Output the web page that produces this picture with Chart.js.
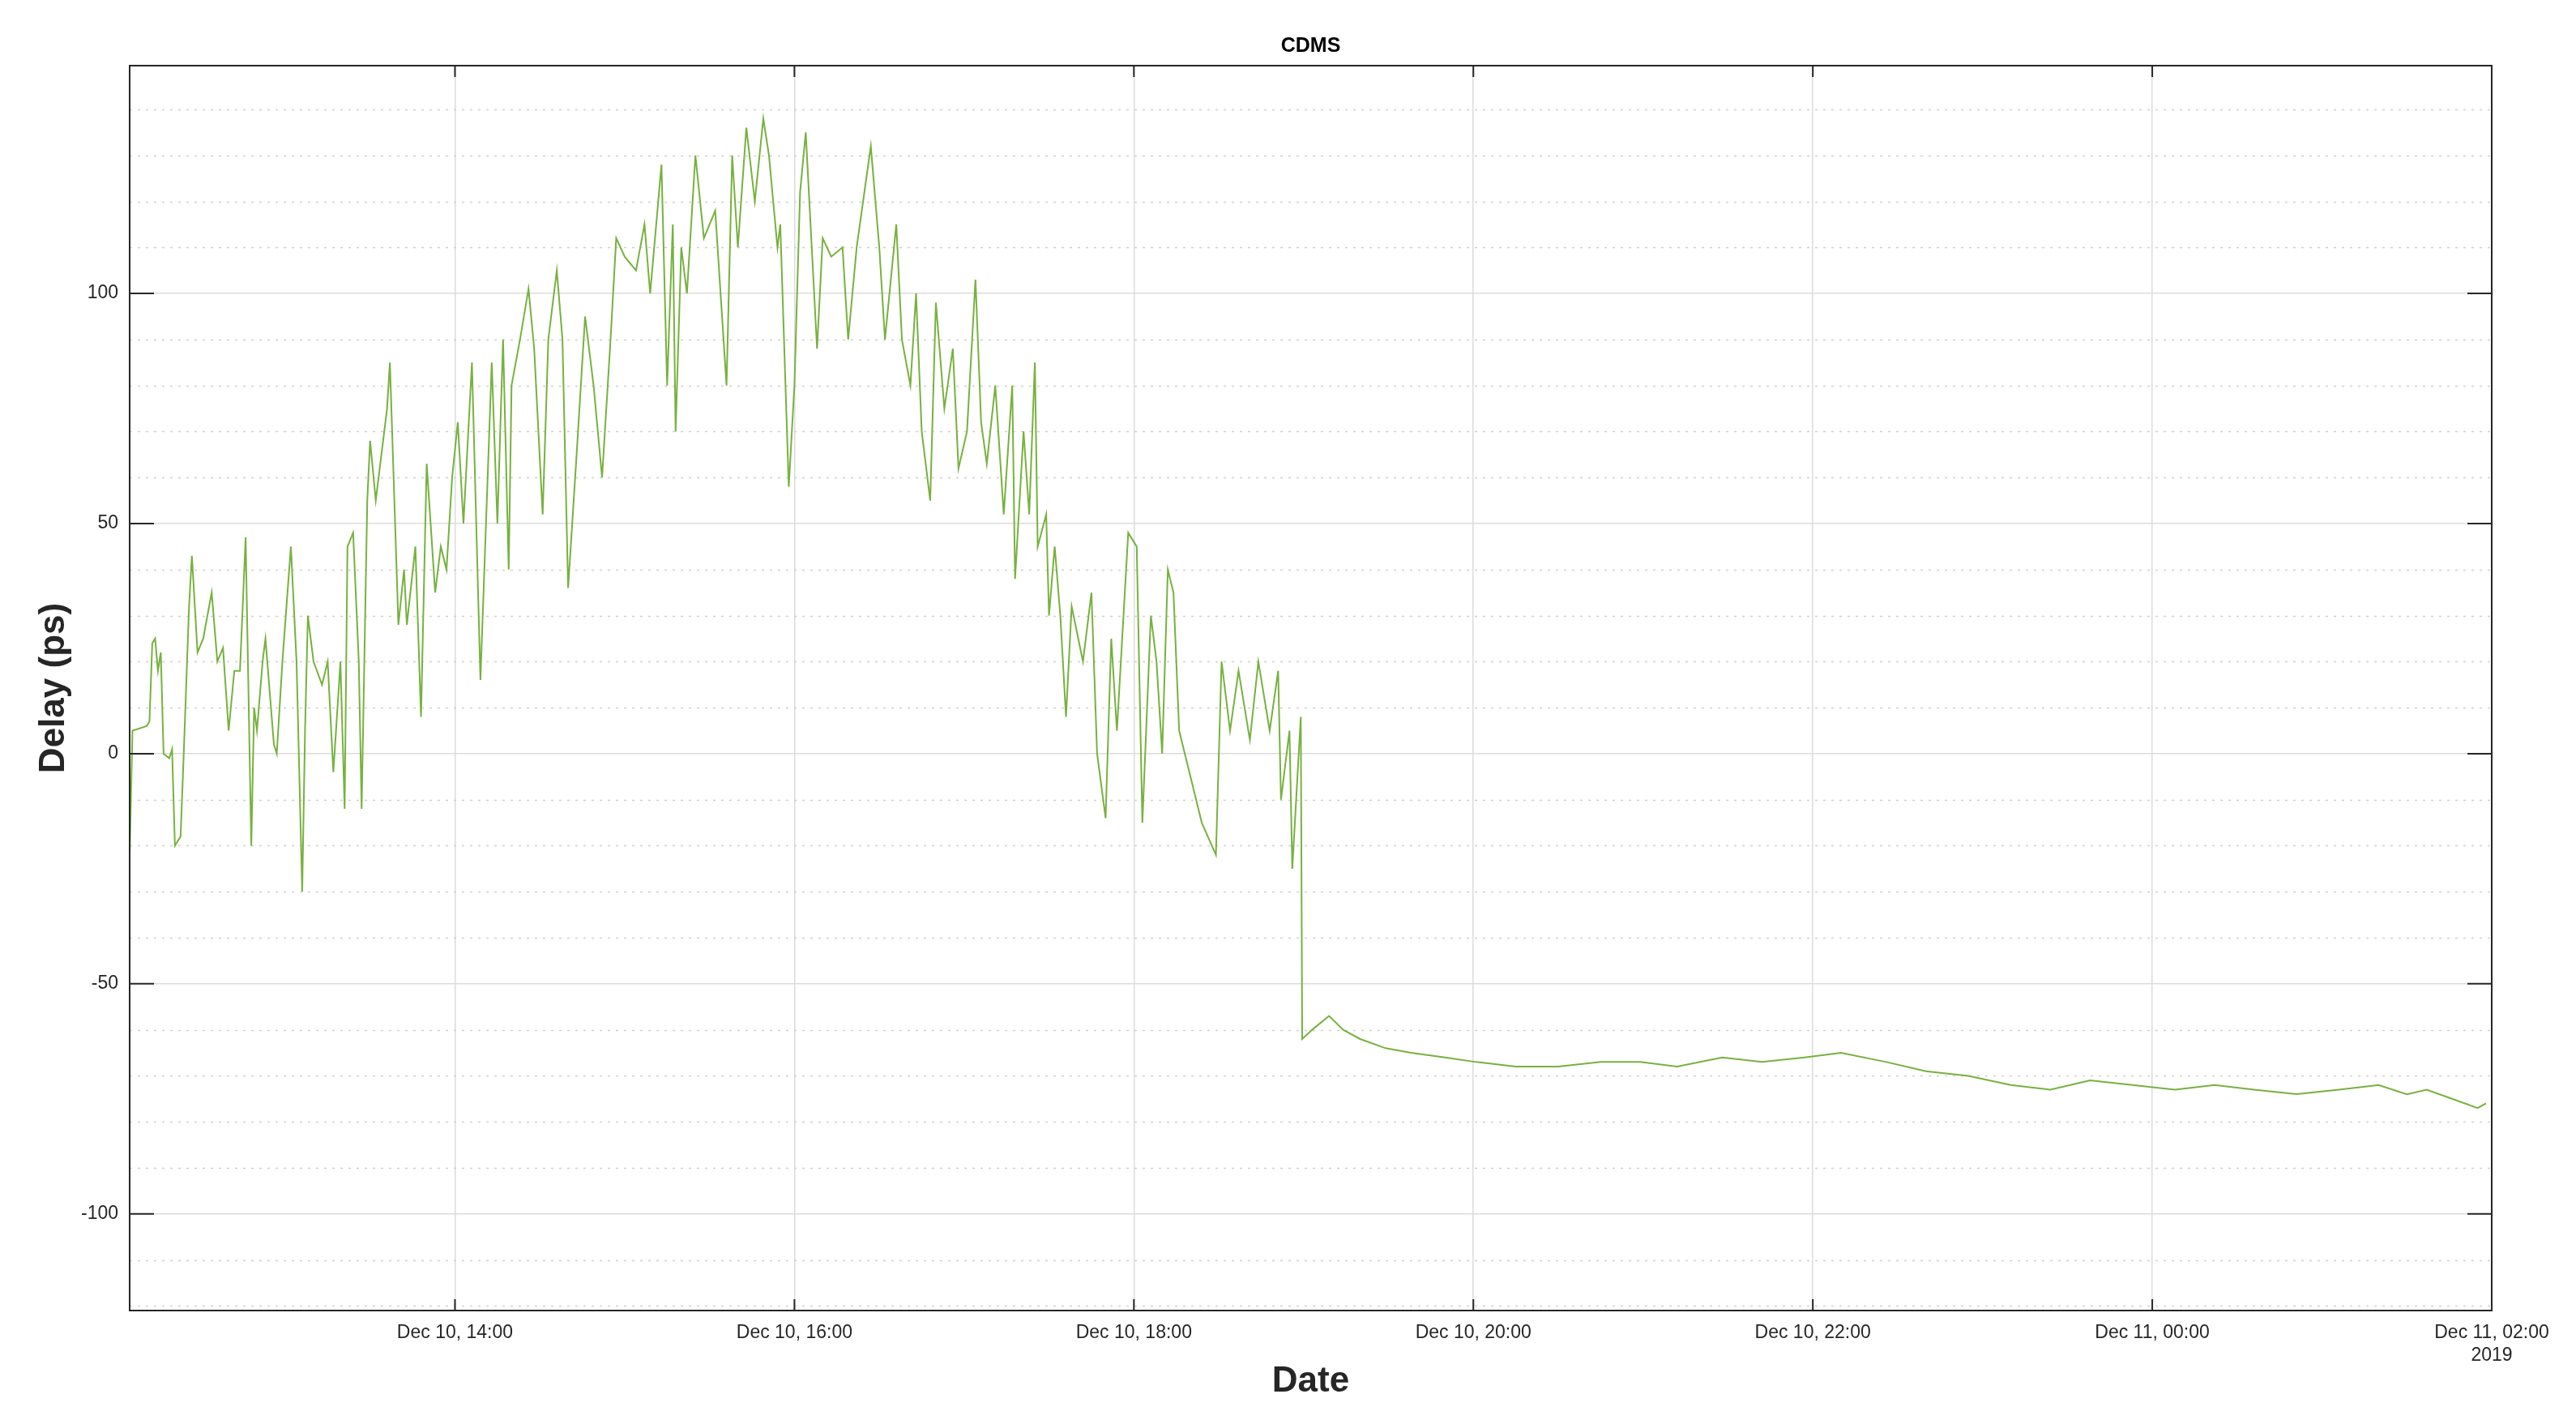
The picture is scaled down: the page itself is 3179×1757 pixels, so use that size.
<!DOCTYPE html>
<html>
<head>
<meta charset="utf-8">
<script src="https://cdn.jsdelivr.net/npm/chart.js@4/dist/chart.umd.min.js"></script>
<style>
  html, body { margin: 0; padding: 0; background: #fff; }
  #wrap { width: 3179px; height: 1757px; }
</style>
</head>
<body>
<div id="wrap"><canvas id="grafico"></canvas></div>
<script>
// minutes after Dec 10 12:00
const minutos = [5,6,11,12,13,14,15,16,17,19,20,21,23,24,26,27,29,31,34,36,38,40,42,44,46,48,49,50,52,53,56,57,59,62,64,66,67,68,70,73,75,77,79,79.5,81,82,84,86,87,89,90,92,96,97,100,102,103,106,108,110,113,115,117,119,121,123,126,129,133,135,137,139,140,143,146,148,151,153,156,158,160,163,166,169,172,175,177,180,184,187,189,193,195,197,198,200,202,205,208,212,216,218,220,223,226,229,231,234,235,238,240,242,244,248,250,253,257,259,262,267,270,272,276,278,281,283,285,288,290,293,296,298,301,304,306,308,311,314,317,318,321,323,325,326,329,330,332,334,336,338,342,345,347,350,352,354,358,361,363,366,368,370,372,374,376,380,384,389,391,394,397,401,404,408,411,412,415,416,419,419.5,423,429,434,440,449,458,470,481,495,510,525,539,552,568,582,597,610,626,640,655,670,684,698,713,728,742,756,771,786,800,810,817,826,835,838];
const atraso = [-22,5,6,7,24,25,18,22,0,-1,1,-20,-18,-2,32,43,22,25,35,20,23,5,18,18,47,-20,10,5,20,25,2,0,20,45,20,-30,5,30,20,15,20,-4,15,20,-12,45,48,20,-12,55,68,55,75,85,28,40,28,45,8,63,35,45,40,60,72,50,85,16,85,50,90,40,80,90,101,88,52,90,105,90,36,65,95,80,60,90,112,108,105,115,100,128,80,115,70,110,100,130,112,118,80,130,110,136,120,138,130,110,115,58,80,122,135,88,112,108,110,90,110,132,110,90,115,90,80,100,70,55,98,75,88,62,70,103,72,63,80,52,80,38,70,52,85,45,52,30,45,30,8,32,20,35,0,-14,25,5,48,45,-15,30,20,0,40,35,5,-5,-15,-22,20,5,18,3,20,5,18,-10,5,-25,8,-62,-60,-57,-60,-62,-64,-65,-66,-67,-68,-68,-67,-67,-68,-66,-67,-66,-65,-67,-69,-70,-72,-73,-71,-72,-73,-72,-73,-74,-73,-72,-74,-73,-75,-77,-76];
const marcasX = [120, 240, 360, 480, 600, 720, 840];
const marcasY = [-100, -50, 0, 50, 100];
const yMin = -121, yMax = 149.5;
const xMin = 5, xMax = 840;

const corTexto = "#262626";

function rotuloData(m) {
  const total = 12 * 60 + m;
  let h = Math.floor(total / 60);
  const dia = h >= 24 ? 11 : 10;
  h = h % 24;
  const txt = `Dec ${dia}, ${String(h).padStart(2, "0")}:00`;
  return m === xMax ? [txt, "2019"] : txt;
}

// grade pontilhada, caixa e ticks estilo MATLAB
const moldura = {
  id: "moldura",
  beforeDatasetsDraw(chart) {
    const { ctx, chartArea: a, scales } = chart;
    ctx.save();
    ctx.lineWidth = 1.5;
    ctx.strokeStyle = "#d0d0d0";
    ctx.setLineDash([3, 7]);
    for (let v = -120; v <= 140; v += 10) {
      if (v % 50 === 0) continue;
      const y = Math.round(scales.y.getPixelForValue(v)) + 0.5;
      ctx.beginPath(); ctx.moveTo(a.left, y); ctx.lineTo(a.right, y); ctx.stroke();
    }
    ctx.restore();
  },
  afterDraw(chart) {
    const { ctx, chartArea: a, scales } = chart;
    ctx.save();
    ctx.strokeStyle = corTexto;
    ctx.lineWidth = 2;
    ctx.strokeRect(a.left, a.top, a.right - a.left, a.bottom - a.top);
    marcasY.forEach(v => {
      const y = scales.y.getPixelForValue(v);
      ctx.beginPath();
      ctx.moveTo(a.left, y); ctx.lineTo(a.left + 30, y);
      ctx.moveTo(a.right, y); ctx.lineTo(a.right - 30, y);
      ctx.stroke();
    });
    marcasX.forEach(m => {
      const x = scales.x.getPixelForValue(m);
      ctx.beginPath();
      ctx.moveTo(x, a.top); ctx.lineTo(x, a.top + 14);
      ctx.moveTo(x, a.bottom); ctx.lineTo(x, a.bottom - 14);
      ctx.stroke();
    });
    ctx.fillStyle = "#000";
    ctx.font = "bold 25px 'Liberation Sans', Arial";
    ctx.textAlign = "center";
    ctx.fillText("CDMS", (a.left + a.right) / 2, 64);
    ctx.restore();
  }
};

const ctx = document.getElementById("grafico").getContext("2d");
new Chart(ctx, {
  type: "line",
  data: {
    datasets: [{
      data: minutos.map((m, i) => ({ x: m, y: atraso[i] })),
      borderColor: "#77b13f",
      borderWidth: 2,
      pointRadius: 0,
      tension: 0,
      fill: false,
    }],
  },
  options: {
    responsive: true,
    maintainAspectRatio: false,
    animation: false,
    layout: { padding: { top: 81, right: 104, left: 0, bottom: 0 } },
    plugins: { legend: { display: false }, tooltip: { enabled: false } },
    scales: {
      x: {
        type: "linear",
        min: xMin,
        max: xMax,
        afterFit: s => { s.height = 140; },
        afterBuildTicks: s => { s.ticks = marcasX.map(v => ({ value: v })); },
        ticks: {
          autoSkip: false,
          maxRotation: 0,
          color: corTexto,
          font: { size: 23, family: "'Liberation Sans', Arial" },
          padding: 14,
          callback: v => rotuloData(v),
        },
        grid: { color: "#dcdcdc", lineWidth: 1.5, drawTicks: false },
        border: { display: false },
        title: {
          display: true,
          text: "Date",
          color: corTexto,
          font: { size: 44, weight: "bold", family: "'Liberation Sans', Arial" },
          padding: { top: 0, bottom: 26 },
        },
      },
      y: {
        min: yMin,
        max: yMax,
        afterFit: s => { s.width = 160; },
        afterBuildTicks: s => { s.ticks = marcasY.map(v => ({ value: v })); },
        ticks: {
          autoSkip: false,
          color: corTexto,
          font: { size: 23, family: "'Liberation Sans', Arial" },
          padding: 14,
        },
        grid: { color: "#dcdcdc", lineWidth: 1.5, drawTicks: false },
        border: { display: false },
        title: {
          display: true,
          text: "Delay (ps)",
          color: corTexto,
          font: { size: 44, weight: "bold", family: "'Liberation Sans', Arial" },
          padding: { top: 40, bottom: 8 },
        },
      },
    },
  },
  plugins: [moldura],
});
</script>
</body>
</html>
